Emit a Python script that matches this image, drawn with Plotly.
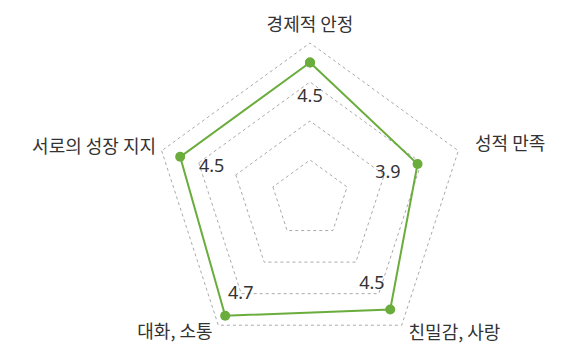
import plotly.graph_objects as go

categories = ["경제적 안정", "성적 만족", "친밀감, 사랑", "대화, 소통", "서로의 성장 지지"]
values = [4.5, 3.9, 4.5, 4.7, 4.5]
value_labels = ["4.5", "3.9", "4.5", "4.7", "4.5"]
r_min = 1
r_max = 5

GREEN = "#6AAD3D"
TEXT = "#333333"
# label offsets (in radial units), one per spoke
value_label_insets = [0.9, 0.8, 0.8, 0.68, 0.85]
cat_label_pads = [0.18, 0.45, 0.3, 0.25, 0.15]
cat_positions = ["top center", "middle right", "middle right", "middle left", "middle left"]
RANGE_PAD = 0.5

# page has an 8px body margin, so figure coords are screen coords minus 8
W = 569
CX, CY, R_GRID = 302, 191, 156
R_OUT = R_GRID * (r_max + RANGE_PAD - r_min) / (r_max - r_min)
H = int(CY + R_OUT + 4)

fig = go.Figure()
fig.add_trace(go.Scatterpolar(
    r=values + values[:1],
    theta=categories + categories[:1],
    mode="lines+markers",
    line=dict(color=GREEN, width=2),
    marker=dict(color=GREEN, size=10),
    hoverinfo="skip",
    showlegend=False,
))
fig.add_trace(go.Scatterpolar(
    r=[v - d for v, d in zip(values, value_label_insets)],
    theta=categories,
    mode="text",
    text=value_labels,
    textfont=dict(size=18, color=TEXT, family="Noto Sans, Noto Sans CJK KR"),
    hoverinfo="skip",
    showlegend=False,
))
fig.add_trace(go.Scatterpolar(
    r=[r_max + p for p in cat_label_pads],
    theta=categories,
    mode="text",
    text=categories,
    textposition=cat_positions,
    textfont=dict(size=18, color=TEXT, family="Noto Sans CJK KR"),
    cliponaxis=False,
    hoverinfo="skip",
    showlegend=False,
))

fig.update_layout(
    width=W,
    height=H,
    margin=dict(l=0, r=0, t=0, b=0),
    paper_bgcolor="white",
    plot_bgcolor="white",
    font=dict(family="Noto Sans CJK KR, Noto Sans", size=16, color=TEXT),
    polar=dict(
        domain=dict(x=[(CX - R_OUT) / W, (CX + R_OUT) / W],
                    y=[max(0, (H - CY - R_OUT) / H), (H - CY + R_OUT) / H]),
        bgcolor="white",
        gridshape="linear",
        radialaxis=dict(
            range=[r_min, r_max + RANGE_PAD],
            tick0=r_min,
            dtick=1,
            showticklabels=False,
            ticks="",
            showline=False,
            gridcolor="#AAAAAA",
            griddash="3px,3px",
            gridwidth=1,
            angle=90,
        ),
        angularaxis=dict(
            direction="clockwise",
            rotation=90,
            showgrid=False,
            showline=False,
            ticks="",
            showticklabels=False,
        ),
    ),
)

fig.write_html("out.html")
